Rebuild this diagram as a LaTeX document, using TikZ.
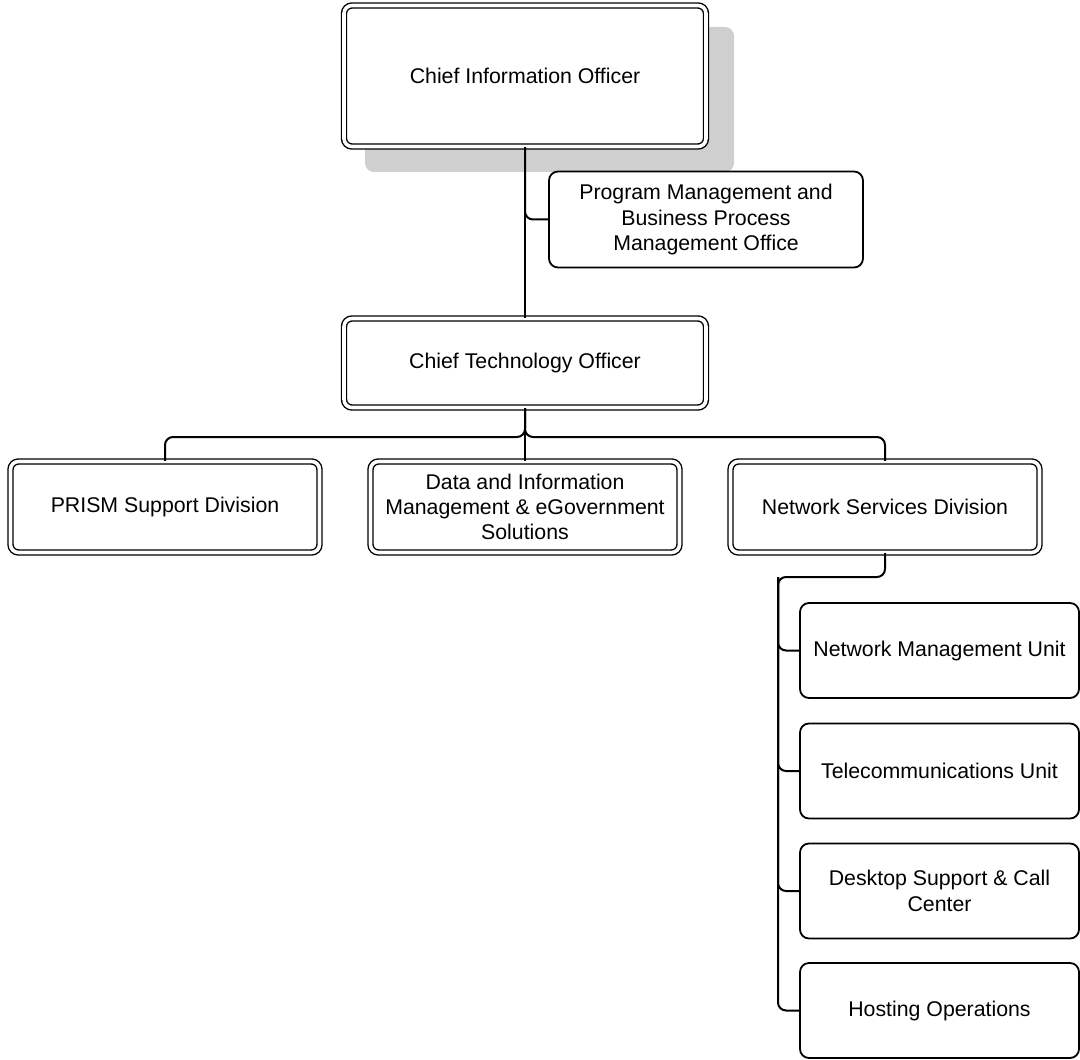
\documentclass[tikz,border=0pt]{standalone}
\usepackage{fontspec}
\setmainfont{Liberation Sans}
\tikzset{
  dbox/.style={draw, double, double distance=1.8pt, line width=0.7pt, rounded corners=4pt,
    inner sep=0pt, align=center, font=\fontsize{10.65}{12.5}\selectfont},
  sbox/.style={draw, line width=0.9pt, rounded corners=4.5pt,
    inner sep=0pt, align=center, font=\fontsize{10.65}{12.7}\selectfont},
  conn/.style={draw, line width=1pt, rounded corners=4pt},
}
\begin{document}
\begin{tikzpicture}[x=0.5pt,y=-0.5pt]
\useasboundingbox (0,0) rectangle (1080,1059);
% shadow
\fill[black!19, rounded corners=4.5pt] (365,27) rectangle (734,172);
% nodes
\node[dbox, fill=white, minimum width=181pt, minimum height=70.5pt] (cio) at (525,76) {Chief Information Officer};
\node[dbox, minimum width=181pt, minimum height=44.5pt] (cto) at (525,363) {Chief Technology Officer};
\node[sbox, minimum width=157pt, minimum height=48pt] (pm) at (706,219.5) {Program Management and\\Business Process\\Management Office};
\node[dbox, minimum width=154.5pt, minimum height=45.5pt] (prism) at (165,507) {PRISM Support Division};
\node[dbox, minimum width=154.5pt, minimum height=45.5pt] (data) at (525,507) {Data and Information\\Management \& eGovernment\\Solutions};
\node[dbox, minimum width=154.5pt, minimum height=45.5pt] (nsd) at (885,507) {Network Services Division};
\node[sbox, minimum width=139.5pt, minimum height=47.5pt] (nmu) at (939.5,650.5) {Network Management Unit};
\node[sbox, minimum width=139.5pt, minimum height=47.5pt] (tel) at (939.5,771) {Telecommunications Unit};
\node[sbox, minimum width=139.5pt, minimum height=47.5pt] (desk) at (939.5,891) {Desktop Support \& Call\\Center};
\node[sbox, minimum width=139.5pt, minimum height=47.5pt] (host) at (939.5,1010.5) {Hosting Operations};
% connectors
\coordinate (br) at (525,437);
\coordinate (sp) at (778,577);
\draw[conn] (cio.south) -- (cto.north);
\draw[conn] (cio.south) |- (pm.west);
\draw[conn] (cto.south) -- (br) -| (prism.north);
\draw[conn] (cto.south) -- (br) -| (nsd.north);
\draw[conn] (cto.south) -- (data.north);
\draw[conn] (nsd.south) |- (sp) |- (host.west);
\draw[conn] (sp) |- (nmu.west);
\draw[conn] (sp) |- (tel.west);
\draw[conn] (sp) |- (desk.west);
\end{tikzpicture}
\end{document}
